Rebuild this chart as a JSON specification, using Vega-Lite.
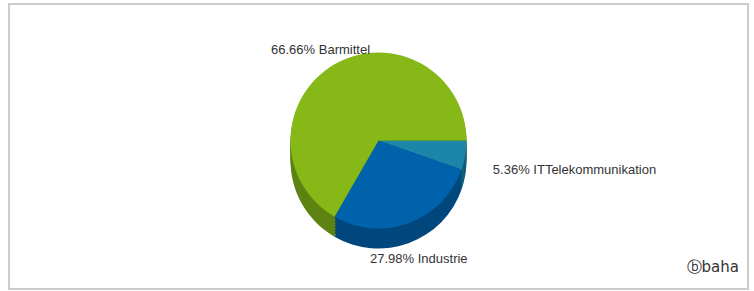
{
  "$schema": "https://vega.github.io/schema/vega-lite/v6.json",
  "width": 754,
  "height": 291,
  "autosize": {"type": "fit", "contains": "padding"},
  "padding": {"left": 8, "top": 3, "right": 5, "bottom": 1},
  "background": "white",
  "config": {"view": {"stroke": null}},
  "title": {"text": "ⓑbaha", "orient": "bottom", "anchor": "end", "offset": -30, "dx": -10, "font": "DejaVu Sans", "fontSize": 15, "fontWeight": "normal", "color": "#333333"},
  "data": {"values": [
    {"cat": "ITTelekommunikation", "pct": 5.36, "label": "5.36% ITTelekommunikation", "order": 1},
    {"cat": "Industrie", "pct": 27.98, "label": "27.98% Industrie", "order": 2},
    {"cat": "Barmittel", "pct": 66.66, "label": "66.66% Barmittel", "order": 3}
  ]},
  "encoding": {
    "theta": {"field": "pct", "type": "quantitative", "stack": true, "scale": {"range": [1.5708, 7.854]}},
    "order": {"field": "order", "type": "quantitative"}
  },
  "layer": [
    {"data": {"values": [{"frame": 1}]},
     "mark": {"type": "rect", "fill": null, "stroke": "#cccccc", "strokeWidth": 2},
     "encoding": {"theta": null, "order": null}},
    {"mark": {"type": "arc", "outerRadius": 88, "yOffset": 14},
     "encoding": {"fill": {"field": "cat", "type": "nominal", "legend": null, "scale": {"domain": ["Barmittel", "Industrie", "ITTelekommunikation"], "range": ["#5d8312", "#00477d", "#0f5f78"]}}}},
    {"mark": {"type": "arc", "outerRadius": 88, "yOffset": 11},
     "encoding": {"fill": {"field": "cat", "type": "nominal", "legend": null}}},
    {"mark": {"type": "arc", "outerRadius": 88, "yOffset": 8},
     "encoding": {"fill": {"field": "cat", "type": "nominal", "legend": null}}},
    {"mark": {"type": "arc", "outerRadius": 88, "yOffset": 5},
     "encoding": {"fill": {"field": "cat", "type": "nominal", "legend": null}}},
    {"mark": {"type": "arc", "outerRadius": 88, "yOffset": 2},
     "encoding": {"fill": {"field": "cat", "type": "nominal", "legend": null}}},
    {"mark": {"type": "arc", "outerRadius": 88, "yOffset": -1},
     "encoding": {"fill": {"field": "cat", "type": "nominal", "legend": null}}},
    {"mark": {"type": "arc", "outerRadius": 88, "yOffset": -4},
     "encoding": {"fill": {"field": "cat", "type": "nominal", "legend": null}}},
    {"mark": {"type": "arc", "outerRadius": 88, "yOffset": -6},
     "encoding": {"color": {"field": "cat", "type": "nominal", "legend": null, "scale": {"domain": ["Barmittel", "Industrie", "ITTelekommunikation"], "range": ["#86b817", "#0062ab", "#1b86a8"]}}}},
    {"mark": {"type": "text", "radius": 116, "yOffset": 4, "font": "Liberation Sans", "fontSize": 13, "fill": "#333333",
              "align": {"expr": "datum.cat == 'ITTelekommunikation' ? 'left' : 'center'"}},
     "encoding": {"text": {"field": "label", "type": "nominal"}}}
  ]
}
